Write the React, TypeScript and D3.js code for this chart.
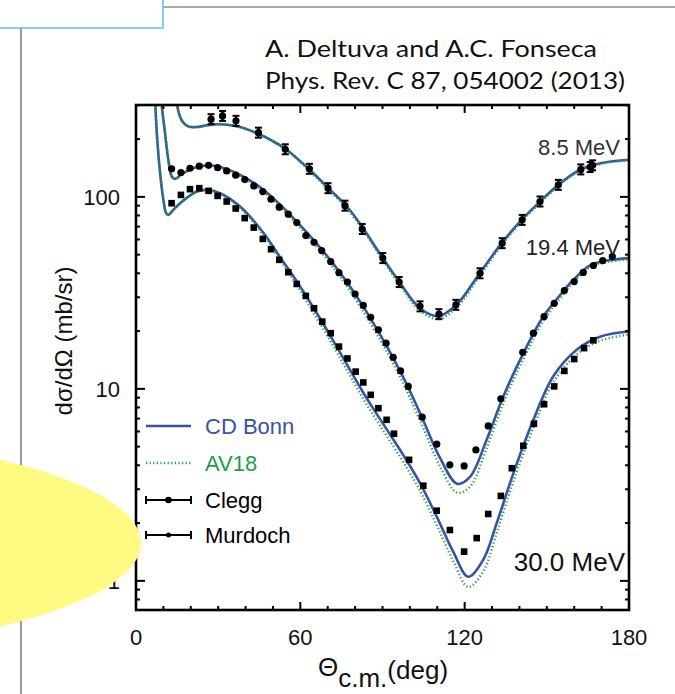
import React from "react";
import * as d3 from "d3";

// theory curves (mb/sr vs deg)
const ang8 = [13.5, 15, 16.7, 19, 22, 26, 30, 34, 38, 44, 50, 55, 63.5, 70.8, 77, 83, 88.5, 96.4, 103.7, 110.4, 117, 125.6, 133.5, 140.8, 147.5, 154.2, 162, 170, 180];
const cdb8 = [500, 300, 250, 233, 231, 236, 239, 237, 231, 215, 195, 176, 138, 109, 89.1, 68.4, 51.9, 35.6, 26.3, 23.9, 27.4, 40.2, 57.4, 75.9, 94.5, 115.5, 138, 150, 156];
const av8 = [500, 300, 250, 233, 231, 236, 239, 237, 231, 215, 194, 175, 136, 107, 87.2, 66.8, 50.6, 34.7, 25.5, 23.1, 26.5, 39, 56, 74.5, 93, 114, 137, 149, 155];

const ang19 = [8.5, 9.4, 10.6, 11.8, 13, 14.2, 17.3, 22.2, 26.4, 30.7, 36.8, 44.1, 50.1, 58.7, 66, 73.3, 77, 83, 89, 92.7, 98.8, 104.9, 111, 117.3, 122, 128, 134.1, 141.4, 148.7, 155, 159.7, 165.8, 172, 180];
const cdb19 = [450, 300, 215, 156, 128, 124, 133, 143, 146, 143, 133, 115.5, 98.5, 74.3, 57.1, 42.5, 36.0, 26.8, 19.3, 15.6, 10.6, 6.84, 4.37, 3.2, 3.49, 5.42, 9.12, 15.3, 23.8, 31, 37, 44, 46.6, 48];
const av19 = [450, 300, 215, 156, 128, 124, 133, 143, 146, 142, 131, 113, 96, 72, 55, 40.5, 34.2, 25.3, 18.1, 14.6, 9.8, 6.25, 3.95, 2.88, 3.1, 4.9, 8.4, 14.3, 22.6, 29.8, 35.8, 43, 45.8, 47.2];

const ang30 = [7, 7.6, 8.8, 10, 11, 11.8, 13.6, 16.1, 22.2, 25.8, 30.7, 38, 46.5, 52.6, 58.7, 64.7, 70.8, 76.9, 83, 86.5, 91.5, 97.6, 103.7, 109.8, 115.9, 121.3, 126.8, 131.7, 137.8, 145.1, 152.3, 160.9, 169.4, 180];
const cdb30 = [320, 215, 133, 96.5, 82.3, 80.6, 85.5, 92.7, 106.6, 108.7, 104.5, 89, 65, 48.5, 36.3, 26.6, 19.05, 13.5, 9.55, 7.94, 6.17, 4.52, 3.23, 2.16, 1.41, 1.05, 1.29, 2.0, 3.64, 6.9, 11.6, 16, 18.7, 19.9];
const av30 = [320, 215, 133, 96.5, 82.3, 80.6, 85.5, 92.7, 106.6, 108.5, 103.5, 87.5, 63.5, 47, 34.6, 25.1, 17.9, 12.6, 8.85, 7.35, 5.7, 4.15, 2.95, 1.95, 1.26, 0.93, 1.12, 1.78, 3.3, 6.3, 10.8, 15.1, 17.8, 19.2];

// data points
const clegg8Ang = [27.4, 31.6, 36.5, 44.7, 54.5, 63.3, 70.1, 76.3, 82.6, 90.1, 96.1, 103.7, 110.6, 116.8, 125.6, 133.7, 141, 147.5, 154.2, 162.4, 165.8, 166.7];
const clegg8Val = [254, 264, 249, 216, 177, 140, 111, 90, 68, 48, 36, 26.9, 24.5, 27.4, 40, 57.4, 75.9, 94.6, 115.5, 139, 143, 146];

const murd19Ang = [13, 16.4, 19.7, 23.1, 26.5, 29.8, 33.1, 36.4, 39.7, 43, 46.3, 49.3, 52.3, 55.6, 58.7, 62, 65, 67.8, 71.1, 74.1, 77.2, 80, 83, 85.7, 88.5, 91.3, 93.9, 96.6, 99.4, 104.5, 109.8, 114.6, 119.8, 124.1, 128.6, 133.2, 141.2, 145.1, 149, 152.7, 156.4, 160, 163.3, 167, 170.4, 173.9];
const murd19Val = [140, 134, 141, 144.5, 146, 142, 136.5, 129.7, 123, 114, 106.6, 97.3, 88.4, 81.3, 73.5, 62.9, 58, 52.5, 46, 40.3, 36, 31.2, 27.2, 23.6, 20.3, 17.3, 14.6, 12.4, 10.3, 7.12, 5.15, 4.02, 3.97, 4.81, 6.41, 8.87, 15.5, 19.5, 23.8, 27.9, 32.5, 36.2, 40.4, 43.9, 46.6, 48.9];

const murd30Ang = [13, 16.4, 19.7, 23.1, 26.5, 29.8, 33.1, 36.4, 39.7, 43, 46.3, 49.3, 52.3, 55.6, 58.7, 62, 65, 68, 71.1, 74.1, 77.2, 80.2, 83, 85.7, 88.5, 91.5, 94.2, 99.7, 104.9, 109.8, 114.6, 119.8, 124.4, 128.6, 133.2, 137.2, 141.4, 145.3, 149, 152.7, 156.4, 160, 163.6, 167];
const murd30Val = [92.7, 102.4, 109.7, 111, 107.5, 101.2, 94.6, 87, 77.5, 69.2, 60.4, 53.4, 47, 40.5, 35.2, 30.5, 26.3, 22.4, 19.5, 16.6, 14.4, 12.3, 10.8, 9.31, 7.93, 6.9, 5.84, 4.27, 3.13, 2.32, 1.84, 1.42, 1.67, 2.23, 2.77, 3.86, 5.05, 6.58, 8.32, 10.3, 12.4, 14.3, 16.3, 17.9];

const xTicks = [0, 60, 120, 180];
const yTicks = [1, 10, 100];
const energyLabels = ["8.5 MeV", "19.4 MeV", "30.0 MeV"];
const legendNames = ["CD Bonn", "AV18", "Clegg", "Murdoch"];

const BLUE = "#3953a4";
const GREEN = "#1e9e48";
const FONT = "'Liberation Sans', Arial, Helvetica, sans-serif";

const App = () => {
  const W = 675, H = 694;
  const L = 136, R = 629, T = 105, B = 610;
  const x = d3.scaleLinear().domain([0, 180]).range([L, R]);
  const y = d3.scaleLog().domain([0.705, 301]).range([B, T]);

  const line = d3.line<[number, number]>()
    .x(d => x(d[0]))
    .y(d => y(d[1]))
    .curve(d3.curveCatmullRom.alpha(0.5));
  const toPts = (a: number[], v: number[]) => a.map((d, i) => [d, v[i]] as [number, number]);

  const curves = [
    [ang8, cdb8, av8],
    [ang19, cdb19, av19],
    [ang30, cdb30, av30],
  ];

  const minorX = d3.range(0, 181, 10);
  const minorY: number[] = [];
  [0.1, 1, 10, 100].forEach(dec => {
    for (let k = 1; k < 10; k++) {
      const v = dec * k;
      if (v >= 0.705 && v <= 301) minorY.push(v);
    }
  });

  return (
    <svg width={W} height={H} style={{ position: "absolute", left: 0, top: 0, background: "#fff" }}>
      <defs>
        <clipPath id="plotclip">
          <rect x={L} y={T} width={R - L} height={B - T} />
        </clipPath>
      </defs>

      {/* slide decorations */}
      <line x1={163} y1={7} x2={W} y2={7} stroke="#555" strokeWidth={1} />
      <line x1={21} y1={28} x2={21} y2={H} stroke="#777" strokeWidth={1.5} />
      <rect x={-2} y={-2} width={165} height={30} fill="#fff" stroke="#6ab8f0" strokeWidth={1.5} />

      {/* title */}
      <g fontFamily="Lato, 'Open Sans', sans-serif" fontSize={23} fill="#111">
        <text x={265} y={57} textLength={332} lengthAdjust="spacingAndGlyphs">A. Deltuva and A.C. Fonseca</text>
        <text x={265} y={89} textLength={360} lengthAdjust="spacingAndGlyphs">Phys. Rev. C 87, 054002 (2013)</text>
      </g>

      {/* curves */}
      <g clipPath="url(#plotclip)" fill="none">
        {curves.map((c, i) => (
          <path key={"b" + i} d={line(toPts(c[0], c[1])) || ""} stroke={BLUE} strokeWidth={2.6} />
        ))}
        {curves.map((c, i) => (
          <path key={"g" + i} d={line(toPts(c[0], c[2])) || ""} stroke={GREEN} strokeWidth={2.4} strokeDasharray="1.2,2.4" />
        ))}
      </g>

      {/* data */}
      <g fill="#000" stroke="#000">
        {clegg8Ang.map((a, i) => {
          const cx = x(a), cy = y(clegg8Val[i]);
          return (
            <g key={"c" + i}>
              <circle cx={cx} cy={cy} r={3.6} stroke="none" />
              <line x1={cx} y1={cy - 5} x2={cx} y2={cy + 5} strokeWidth={2} />
              <line x1={cx - 3.5} y1={cy - 5} x2={cx + 3.5} y2={cy - 5} strokeWidth={2} />
              <line x1={cx - 3.5} y1={cy + 5} x2={cx + 3.5} y2={cy + 5} strokeWidth={2} />
            </g>
          );
        })}
        {murd19Ang.map((a, i) => (
          <circle key={"m19" + i} cx={x(a)} cy={y(murd19Val[i])} r={3.6} stroke="none" />
        ))}
        {murd30Ang.map((a, i) => (
          <rect key={"m30" + i} x={x(a) - 3.3} y={y(murd30Val[i]) - 3.3} width={6.6} height={6.6} stroke="none" />
        ))}
      </g>

      {/* energy labels */}
      <g fontFamily={FONT} textAnchor="end">
        <text x={620} y={155} fontSize={22} fill="#333">{energyLabels[0]}</text>
        <text x={620} y={255} fontSize={22} fill="#222">{energyLabels[1]}</text>
        <text x={625} y={571} fontSize={26} fill="#111">{energyLabels[2]}</text>
      </g>

      {/* legend */}
      <g fontFamily={FONT} fontSize={22}>
        <line x1={146} y1={426} x2={191} y2={426} stroke={BLUE} strokeWidth={2.6} />
        <text x={205} y={434} fill={BLUE}>{legendNames[0]}</text>
        <line x1={146} y1={463} x2={191} y2={463} stroke={GREEN} strokeWidth={2.4} strokeDasharray="1.2,2.4" />
        <text x={205} y={471} fill={GREEN}>{legendNames[1]}</text>
        <g stroke="#000" strokeWidth={2}>
          <line x1={146} y1={500} x2={191} y2={500} />
          <line x1={146} y1={496} x2={146} y2={504} />
          <line x1={191} y1={496} x2={191} y2={504} />
          <circle cx={168.5} cy={500} r={3.3} fill="#000" stroke="none" />
          <line x1={146} y1={535} x2={191} y2={535} />
          <line x1={146} y1={531} x2={146} y2={539} />
          <line x1={191} y1={531} x2={191} y2={539} />
          <circle cx={168.5} cy={535} r={2.5} fill="#000" stroke="none" />
        </g>
        <text x={205} y={508} fill="#000">{legendNames[2]}</text>
        <text x={205} y={543} fill="#000">{legendNames[3]}</text>
      </g>

      {/* axes frame and ticks */}
      <g stroke="#000" strokeWidth={2}>
        {minorX.map(v => {
          const len = xTicks.includes(v) ? 8 : 4;
          return (
            <g key={"xt" + v}>
              <line x1={x(v)} y1={B} x2={x(v)} y2={B - len} />
              <line x1={x(v)} y1={T} x2={x(v)} y2={T + len} />
            </g>
          );
        })}
        {minorY.map(v => {
          const len = yTicks.includes(v) ? 9 : 4;
          return (
            <g key={"yt" + v}>
              <line x1={L} y1={y(v)} x2={L + len} y2={y(v)} />
              <line x1={R} y1={y(v)} x2={R - len} y2={y(v)} />
            </g>
          );
        })}
        <rect x={L} y={T} width={R - L} height={B - T} fill="none" strokeWidth={2.6} />
      </g>

      {/* tick labels */}
      <g fontFamily={FONT} fontSize={22} fill="#111">
        {xTicks.map(v => (
          <text key={"xl" + v} x={x(v)} y={645} textAnchor="middle">{v}</text>
        ))}
        {yTicks.map(v => (
          <text key={"yl" + v} x={120} y={y(v) + 8} textAnchor="end">{v}</text>
        ))}
      </g>

      {/* axis titles */}
      <text x={318} y={676} fontFamily={FONT} fontSize={26} fill="#111">
        Θ<tspan dy={11}>c.m.</tspan><tspan dy={-8}>(deg)</tspan>
      </text>
      <text transform="translate(72,341) rotate(-90)" textAnchor="middle" fontFamily={FONT} fontSize={24} fill="#111">
        dσ/dΩ (mb/sr)
      </text>

      {/* highlight blob */}
      <ellipse cx={-300} cy={543} rx={441} ry={114} fill="#fffa82" />
    </svg>
  );
};

export default App;
